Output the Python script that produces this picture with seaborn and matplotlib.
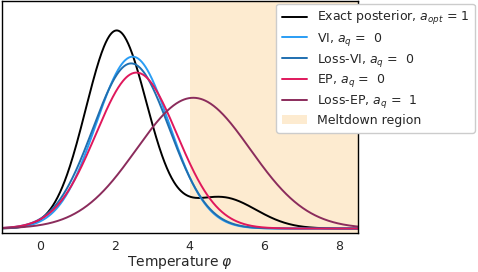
import numpy as np
import pandas as pd
import matplotlib
matplotlib.use('Agg')
import matplotlib.pyplot as plt
import seaborn as sns

# distribution parameters (mean, std, weight)
labels = [r'Exact posterior, $a_{opt}$ = 1', r'VI, $a_q$ =  0', r'Loss-VI, $a_q$ =  0',
          r'EP, $a_q$ =  0', r'Loss-EP, $a_q$ =  1']
colors = ['black', '#2a9df4', '#1f6fb0', '#e0185c', '#8b2c5c']
means = [[2.05, 4.85], [2.48], [2.44], [2.58], [4.1]]
stds = [[0.82, 0.92], [0.98], [1.02], [1.08], [1.52]]
weights = [[0.963, 0.17], [1.0], [1.0], [1.0], [1.18]]
meltdown_start = 4.0
x_ticks = [0, 2, 4, 6, 8]

x = np.linspace(-1, 8.5, 600)
rows = []
for lab, mu, sd, w in zip(labels, means, stds, weights):
    y = np.zeros_like(x)
    for m, s, ww in zip(mu, sd, w):
        y += ww * np.exp(-0.5 * ((x - m) / s) ** 2) / (s * np.sqrt(2 * np.pi))
    rows.append(pd.DataFrame({'phi': x, 'density': y, 'curve': lab}))
df = pd.concat(rows)

sns.set_style('white')
plt.rcParams['font.family'] = ['DejaVu Sans']

fig = plt.figure(figsize=(4.78, 2.72), dpi=100)
ax = fig.add_axes([0.005, 0.145, 0.744, 0.853])

ax.axvspan(meltdown_start, 100, color='#fdebd0', lw=0, zorder=0)
sns.lineplot(data=df, x='phi', y='density', hue='curve', palette=colors,
             hue_order=labels, lw=1.4, ax=ax, legend=False)

ax.set_xlim(-1, 8.5)
ax.set_ylim(-0.0095, 0.54)
ax.set_xticks(x_ticks)
ax.set_yticks([])
ax.set_ylabel('')
ax.set_xlabel(r'Temperature $\varphi$', fontsize=10, labelpad=1)
ax.tick_params(axis='x', labelsize=9, length=3, width=0.8, pad=2, color='#555555')
for sp in ax.spines.values():
    sp.set_color('black')
    sp.set_linewidth(1.0)

handles = [plt.Line2D([], [], color=c, lw=1.4) for c in colors]
handles.append(plt.Rectangle((0, 0), 1, 1, color='#fdebd0', lw=0))
leg = ax.legend(handles, labels + ['Meltdown region'], loc='upper right',
                bbox_to_anchor=(0.993, 0.987), bbox_transform=fig.transFigure,
                fontsize=9, frameon=True, framealpha=1, handlelength=2.0,
                borderaxespad=0, labelspacing=0.3, handletextpad=0.8,
                borderpad=0.45)
leg.get_frame().set_edgecolor('#cccccc')

fig.savefig('out.png', dpi=100)
